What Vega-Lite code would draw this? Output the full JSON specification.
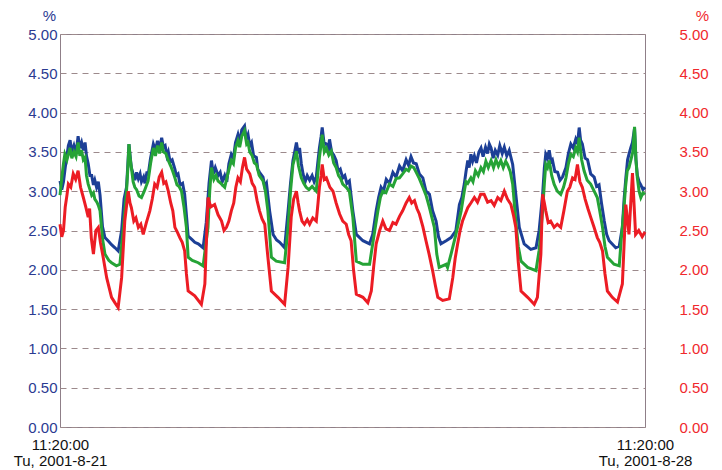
{
  "$schema": "https://vega.github.io/schema/vega-lite/v6.json",
  "width": 585,
  "height": 393,
  "autosize": "none",
  "padding": {"left": 60, "top": 34, "right": 77, "bottom": 43},
  "background": "white",
  "config": {
    "view": {"stroke": "#8f7f88", "strokeWidth": 1},
    "font": "Liberation Sans"
  },
  "datasets": {
    "L1": [
      {"h":0,"v":3.13},{"h":0.5,"v":3.02},{"h":1.0,"v":3.12},{"h":1.5,"v":3.3},{"h":2.0,"v":3.45},{"h":2.4,"v":3.58},{"h":2.9,"v":3.65},{"h":3.4,"v":3.5},{"h":4.0,"v":3.58},{"h":4.6,"v":3.48},{"h":5.2,"v":3.7},{"h":5.7,"v":3.55},{"h":6.2,"v":3.62},{"h":6.7,"v":3.52},{"h":7.2,"v":3.62},{"h":7.6,"v":3.45},{"h":8.1,"v":3.35},{"h":8.6,"v":3.2},{"h":9.1,"v":3.2},{"h":9.6,"v":3.08},{"h":10.0,"v":3.14},{"h":10.5,"v":3.05},{"h":11.0,"v":3.12},{"h":11.5,"v":2.95},{"h":12.2,"v":2.55},{"h":12.9,"v":2.41},{"h":14.0,"v":2.36},{"h":14.8,"v":2.32},{"h":15.8,"v":2.28},{"h":16.7,"v":2.24},{"h":17.7,"v":2.5},{"h":18.4,"v":2.9},{"h":19.1,"v":3.05},{"h":19.5,"v":3.35},{"h":19.8,"v":3.6},{"h":20.2,"v":3.42},{"h":20.5,"v":3.3},{"h":21.0,"v":3.22},{"h":21.5,"v":3.14},{"h":22.0,"v":3.24},{"h":22.5,"v":3.16},{"h":23.0,"v":3.22},{"h":23.4,"v":3.12},{"h":24.0,"v":3.18},{"h":24.4,"v":3.1},{"h":25.0,"v":3.25},{"h":25.3,"v":3.2},{"h":26.0,"v":3.42},{"h":26.8,"v":3.6},{"h":27.4,"v":3.52},{"h":28.0,"v":3.64},{"h":28.6,"v":3.55},{"h":29.2,"v":3.68},{"h":29.7,"v":3.56},{"h":30.2,"v":3.58},{"h":30.7,"v":3.45},{"h":31.1,"v":3.5},{"h":31.6,"v":3.38},{"h":32.2,"v":3.4},{"h":33.0,"v":3.28},{"h":33.4,"v":3.2},{"h":33.9,"v":3.22},{"h":34.5,"v":3.08},{"h":35.2,"v":3.1},{"h":35.8,"v":2.96},{"h":36.3,"v":2.7},{"h":36.8,"v":2.43},{"h":38.0,"v":2.38},{"h":38.7,"v":2.35},{"h":39.7,"v":2.33},{"h":41.1,"v":2.28},{"h":42.0,"v":2.6},{"h":42.8,"v":3.1},{"h":43.5,"v":3.39},{"h":44.0,"v":3.22},{"h":44.6,"v":3.3},{"h":45.4,"v":3.2},{"h":46.0,"v":3.24},{"h":46.6,"v":3.12},{"h":47.3,"v":3.2},{"h":47.9,"v":3.12},{"h":48.5,"v":3.35},{"h":49.2,"v":3.47},{"h":49.8,"v":3.42},{"h":50.4,"v":3.62},{"h":51.1,"v":3.72},{"h":51.6,"v":3.62},{"h":52.2,"v":3.78},{"h":53.0,"v":3.83},{"h":53.5,"v":3.66},{"h":54.0,"v":3.72},{"h":54.5,"v":3.58},{"h":55.0,"v":3.62},{"h":55.6,"v":3.45},{"h":56.4,"v":3.43},{"h":56.8,"v":3.28},{"h":57.3,"v":3.24},{"h":58.3,"v":3.18},{"h":58.8,"v":3.06},{"h":59.3,"v":3.1},{"h":60.2,"v":2.75},{"h":61.2,"v":2.45},{"h":62.2,"v":2.38},{"h":63.1,"v":2.35},{"h":64.5,"v":2.28},{"h":65.5,"v":2.75},{"h":66.2,"v":3.1},{"h":66.9,"v":3.39},{"h":67.4,"v":3.5},{"h":67.9,"v":3.62},{"h":68.4,"v":3.48},{"h":68.8,"v":3.55},{"h":69.3,"v":3.35},{"h":69.8,"v":3.22},{"h":70.4,"v":3.12},{"h":71.0,"v":3.2},{"h":71.7,"v":3.14},{"h":72.4,"v":3.2},{"h":73.0,"v":3.12},{"h":73.6,"v":3.18},{"h":74.0,"v":3.35},{"h":74.5,"v":3.55},{"h":75.0,"v":3.7},{"h":75.3,"v":3.81},{"h":75.8,"v":3.62},{"h":76.5,"v":3.6},{"h":77.0,"v":3.5},{"h":77.4,"v":3.66},{"h":78.0,"v":3.5},{"h":78.6,"v":3.46},{"h":79.3,"v":3.39},{"h":79.9,"v":3.25},{"h":80.5,"v":3.28},{"h":81.2,"v":3.17},{"h":81.8,"v":3.2},{"h":82.4,"v":3.1},{"h":83.1,"v":3.13},{"h":84.1,"v":2.75},{"h":85.1,"v":2.45},{"h":87.0,"v":2.37},{"h":88.9,"v":2.33},{"h":89.8,"v":2.45},{"h":90.8,"v":2.75},{"h":91.5,"v":2.92},{"h":92.2,"v":3.05},{"h":92.9,"v":3.0},{"h":93.7,"v":3.15},{"h":94.6,"v":3.1},{"h":95.6,"v":3.24},{"h":96.5,"v":3.18},{"h":97.5,"v":3.32},{"h":98.4,"v":3.26},{"h":99.4,"v":3.4},{"h":100.1,"v":3.33},{"h":100.8,"v":3.44},{"h":101.5,"v":3.36},{"h":102.3,"v":3.35},{"h":103.2,"v":3.22},{"h":104.2,"v":3.17},{"h":105.1,"v":3.0},{"h":106.1,"v":2.96},{"h":107.0,"v":2.75},{"h":108.0,"v":2.62},{"h":108.7,"v":2.42},{"h":109.4,"v":2.33},{"h":110.9,"v":2.37},{"h":112.3,"v":2.41},{"h":113.7,"v":2.5},{"h":114.7,"v":2.83},{"h":115.4,"v":2.92},{"h":116.1,"v":3.09},{"h":116.6,"v":3.25},{"h":117.1,"v":3.39},{"h":117.5,"v":3.3},{"h":118.0,"v":3.47},{"h":118.5,"v":3.38},{"h":119.0,"v":3.45},{"h":119.6,"v":3.36},{"h":120.3,"v":3.5},{"h":120.9,"v":3.55},{"h":121.5,"v":3.44},{"h":122.2,"v":3.56},{"h":122.8,"v":3.48},{"h":123.3,"v":3.6},{"h":123.8,"v":3.55},{"h":124.4,"v":3.42},{"h":125.0,"v":3.52},{"h":125.7,"v":3.46},{"h":126.3,"v":3.58},{"h":127.0,"v":3.48},{"h":127.6,"v":3.56},{"h":128.3,"v":3.45},{"h":129.0,"v":3.52},{"h":130.0,"v":3.34},{"h":130.9,"v":2.96},{"h":131.9,"v":2.54},{"h":133.3,"v":2.33},{"h":135.2,"v":2.26},{"h":136.7,"v":2.28},{"h":137.6,"v":2.5},{"h":138.6,"v":2.96},{"h":139.1,"v":3.3},{"h":139.5,"v":3.47},{"h":140.0,"v":3.42},{"h":140.5,"v":3.52},{"h":141.0,"v":3.38},{"h":141.4,"v":3.4},{"h":142.1,"v":3.25},{"h":142.9,"v":3.24},{"h":143.6,"v":3.14},{"h":144.3,"v":3.18},{"h":145.3,"v":3.3},{"h":146.0,"v":3.48},{"h":146.7,"v":3.6},{"h":147.4,"v":3.55},{"h":148.1,"v":3.66},{"h":148.6,"v":3.6},{"h":149.1,"v":3.81},{"h":149.5,"v":3.65},{"h":150.0,"v":3.6},{"h":150.8,"v":3.42},{"h":151.5,"v":3.4},{"h":152.4,"v":3.22},{"h":153.4,"v":3.18},{"h":154.1,"v":3.06},{"h":154.8,"v":3.08},{"h":155.5,"v":2.85},{"h":156.3,"v":2.62},{"h":157.0,"v":2.45},{"h":157.7,"v":2.37},{"h":159.6,"v":2.28},{"h":160.6,"v":2.3},{"h":161.5,"v":2.54},{"h":162.0,"v":2.9},{"h":162.5,"v":3.17},{"h":163.0,"v":3.4},{"h":163.4,"v":3.47},{"h":163.9,"v":3.55},{"h":164.4,"v":3.62},{"h":165.0,"v":3.8},{"h":165.4,"v":3.4},{"h":165.8,"v":3.2},{"h":166.3,"v":3.12},{"h":166.8,"v":3.08},{"h":167.4,"v":3.02},{"h":168,"v":3.05}
    ],
    "L2": [
      {"h":0,"v":2.95},{"h":0.6,"v":3.2},{"h":1.0,"v":3.35},{"h":1.4,"v":3.47},{"h":2.0,"v":3.4},{"h":2.9,"v":3.55},{"h":3.4,"v":3.42},{"h":4.0,"v":3.5},{"h":4.6,"v":3.44},{"h":5.2,"v":3.62},{"h":5.7,"v":3.45},{"h":6.2,"v":3.52},{"h":6.7,"v":3.4},{"h":7.2,"v":3.43},{"h":7.6,"v":3.2},{"h":8.1,"v":3.09},{"h":8.6,"v":3.02},{"h":9.1,"v":2.95},{"h":9.6,"v":2.98},{"h":10.0,"v":2.9},{"h":10.6,"v":2.86},{"h":11.0,"v":2.82},{"h":11.5,"v":2.75},{"h":12.2,"v":2.4},{"h":12.9,"v":2.2},{"h":14.0,"v":2.12},{"h":14.8,"v":2.09},{"h":16.2,"v":2.05},{"h":17.2,"v":2.07},{"h":18.2,"v":2.54},{"h":19.1,"v":3.0},{"h":19.5,"v":3.3},{"h":19.8,"v":3.6},{"h":20.2,"v":3.4},{"h":20.5,"v":3.3},{"h":21.0,"v":3.12},{"h":21.5,"v":3.05},{"h":22.0,"v":3.02},{"h":22.7,"v":2.94},{"h":23.4,"v":2.92},{"h":24.2,"v":3.0},{"h":25.3,"v":3.13},{"h":26.0,"v":3.35},{"h":26.8,"v":3.55},{"h":27.4,"v":3.45},{"h":28.0,"v":3.58},{"h":28.6,"v":3.48},{"h":29.2,"v":3.62},{"h":29.7,"v":3.5},{"h":30.4,"v":3.48},{"h":31.1,"v":3.39},{"h":31.8,"v":3.32},{"h":32.4,"v":3.25},{"h":33.0,"v":3.17},{"h":33.6,"v":3.08},{"h":34.2,"v":3.06},{"h":34.9,"v":3.0},{"h":35.6,"v":2.8},{"h":36.3,"v":2.54},{"h":36.8,"v":2.16},{"h":38.0,"v":2.12},{"h":39.7,"v":2.09},{"h":41.1,"v":2.05},{"h":42.5,"v":2.54},{"h":43.0,"v":3.0},{"h":43.5,"v":3.3},{"h":44.2,"v":3.15},{"h":44.8,"v":3.2},{"h":45.4,"v":3.13},{"h":46.2,"v":3.1},{"h":47.3,"v":3.05},{"h":48.2,"v":3.22},{"h":49.2,"v":3.39},{"h":49.8,"v":3.35},{"h":50.4,"v":3.55},{"h":51.1,"v":3.64},{"h":51.6,"v":3.56},{"h":52.2,"v":3.7},{"h":53.0,"v":3.77},{"h":53.6,"v":3.6},{"h":54.0,"v":3.62},{"h":54.5,"v":3.5},{"h":55.2,"v":3.45},{"h":55.8,"v":3.36},{"h":56.4,"v":3.34},{"h":57.2,"v":3.2},{"h":58.3,"v":3.13},{"h":59.0,"v":3.0},{"h":59.7,"v":2.75},{"h":60.7,"v":2.16},{"h":62.1,"v":2.11},{"h":64.5,"v":2.09},{"h":65.5,"v":2.54},{"h":66.2,"v":3.0},{"h":66.9,"v":3.34},{"h":67.4,"v":3.42},{"h":67.9,"v":3.51},{"h":68.5,"v":3.32},{"h":69.3,"v":3.17},{"h":70.0,"v":3.1},{"h":70.7,"v":3.05},{"h":71.5,"v":3.02},{"h":72.4,"v":3.06},{"h":73.6,"v":3.0},{"h":74.0,"v":3.2},{"h":74.5,"v":3.43},{"h":75.0,"v":3.6},{"h":75.3,"v":3.72},{"h":75.9,"v":3.5},{"h":76.5,"v":3.55},{"h":77.2,"v":3.46},{"h":77.9,"v":3.51},{"h":78.6,"v":3.36},{"h":79.3,"v":3.3},{"h":80.0,"v":3.2},{"h":80.6,"v":3.16},{"h":81.2,"v":3.09},{"h":82.2,"v":3.05},{"h":83.1,"v":3.0},{"h":84.1,"v":2.67},{"h":85.1,"v":2.11},{"h":87.0,"v":2.07},{"h":88.9,"v":2.07},{"h":89.8,"v":2.33},{"h":91.3,"v":2.75},{"h":92.0,"v":2.92},{"h":92.7,"v":3.0},{"h":93.6,"v":2.98},{"h":94.6,"v":3.09},{"h":95.6,"v":3.06},{"h":96.5,"v":3.16},{"h":97.5,"v":3.17},{"h":98.4,"v":3.22},{"h":99.4,"v":3.28},{"h":100.1,"v":3.26},{"h":100.8,"v":3.32},{"h":101.6,"v":3.3},{"h":102.3,"v":3.24},{"h":103.2,"v":3.16},{"h":104.2,"v":3.05},{"h":105.1,"v":2.95},{"h":106.1,"v":2.79},{"h":107.5,"v":2.54},{"h":108.2,"v":2.2},{"h":108.9,"v":2.03},{"h":110.9,"v":2.07},{"h":111.3,"v":2.03},{"h":112.3,"v":2.2},{"h":113.7,"v":2.45},{"h":115.2,"v":2.75},{"h":116.1,"v":3.0},{"h":116.6,"v":3.12},{"h":117.1,"v":3.1},{"h":118.0,"v":3.17},{"h":118.6,"v":3.12},{"h":119.3,"v":3.26},{"h":120.1,"v":3.2},{"h":120.9,"v":3.3},{"h":121.6,"v":3.25},{"h":122.3,"v":3.38},{"h":123.0,"v":3.3},{"h":123.8,"v":3.39},{"h":124.5,"v":3.3},{"h":125.2,"v":3.4},{"h":125.9,"v":3.32},{"h":126.6,"v":3.39},{"h":127.3,"v":3.3},{"h":128.0,"v":3.38},{"h":128.5,"v":3.34},{"h":129.3,"v":3.25},{"h":130.0,"v":3.09},{"h":130.9,"v":2.62},{"h":131.6,"v":2.3},{"h":132.4,"v":2.11},{"h":134.3,"v":2.03},{"h":136.7,"v":1.99},{"h":137.6,"v":2.25},{"h":138.6,"v":2.75},{"h":139.1,"v":3.1},{"h":139.5,"v":3.34},{"h":140.0,"v":3.3},{"h":140.5,"v":3.39},{"h":141.2,"v":3.2},{"h":141.9,"v":3.09},{"h":142.8,"v":3.0},{"h":143.8,"v":2.96},{"h":144.6,"v":3.05},{"h":145.3,"v":3.17},{"h":146.0,"v":3.35},{"h":146.7,"v":3.47},{"h":147.4,"v":3.44},{"h":148.1,"v":3.55},{"h":148.6,"v":3.5},{"h":149.1,"v":3.68},{"h":149.8,"v":3.4},{"h":150.5,"v":3.26},{"h":151.4,"v":3.14},{"h":152.4,"v":3.09},{"h":153.4,"v":3.0},{"h":154.3,"v":2.92},{"h":155.0,"v":2.75},{"h":155.8,"v":2.54},{"h":156.5,"v":2.3},{"h":157.2,"v":2.16},{"h":159.1,"v":2.07},{"h":160.6,"v":2.05},{"h":161.2,"v":2.4},{"h":161.9,"v":2.75},{"h":162.4,"v":3.05},{"h":162.9,"v":3.26},{"h":163.4,"v":3.3},{"h":163.9,"v":3.39},{"h":164.5,"v":3.5},{"h":165.0,"v":3.82},{"h":165.4,"v":3.4},{"h":165.8,"v":3.17},{"h":166.3,"v":3.0},{"h":166.8,"v":2.92},{"h":167.4,"v":2.98},{"h":168,"v":2.96}
    ],
    "L3": [
      {"h":0,"v":2.58},{"h":0.5,"v":2.42},{"h":1.0,"v":2.5},{"h":1.5,"v":2.8},{"h":2.0,"v":2.95},{"h":2.4,"v":3.09},{"h":3.1,"v":3.05},{"h":3.8,"v":3.22},{"h":4.5,"v":3.15},{"h":5.2,"v":3.26},{"h":5.9,"v":3.05},{"h":6.7,"v":2.92},{"h":7.4,"v":2.8},{"h":8.1,"v":2.67},{"h":8.5,"v":2.78},{"h":9.0,"v":2.4},{"h":9.6,"v":2.2},{"h":10.3,"v":2.5},{"h":11.0,"v":2.54},{"h":11.6,"v":2.35},{"h":12.4,"v":2.16},{"h":13.4,"v":1.9},{"h":14.8,"v":1.65},{"h":15.8,"v":1.58},{"h":16.7,"v":1.52},{"h":17.7,"v":1.9},{"h":18.6,"v":2.62},{"h":19.6,"v":3.0},{"h":20.1,"v":2.85},{"h":20.5,"v":2.79},{"h":21.2,"v":2.62},{"h":21.8,"v":2.66},{"h":22.5,"v":2.54},{"h":23.2,"v":2.58},{"h":23.9,"v":2.45},{"h":24.8,"v":2.6},{"h":25.8,"v":2.75},{"h":26.5,"v":2.9},{"h":27.2,"v":3.09},{"h":27.9,"v":3.05},{"h":28.5,"v":3.18},{"h":29.2,"v":3.24},{"h":29.8,"v":3.1},{"h":30.4,"v":3.12},{"h":31.1,"v":3.0},{"h":31.8,"v":2.85},{"h":32.4,"v":2.75},{"h":33.0,"v":2.54},{"h":33.7,"v":2.48},{"h":34.4,"v":2.41},{"h":35.1,"v":2.35},{"h":35.8,"v":2.24},{"h":36.3,"v":1.95},{"h":36.8,"v":1.73},{"h":38.7,"v":1.67},{"h":40.6,"v":1.56},{"h":41.6,"v":1.82},{"h":42.5,"v":2.92},{"h":43.3,"v":2.8},{"h":44.4,"v":2.83},{"h":45.4,"v":2.7},{"h":46.4,"v":2.62},{"h":47.1,"v":2.5},{"h":47.8,"v":2.54},{"h":48.5,"v":2.62},{"h":49.2,"v":2.75},{"h":49.9,"v":2.85},{"h":50.5,"v":3.05},{"h":51.1,"v":3.17},{"h":51.8,"v":3.12},{"h":52.4,"v":3.3},{"h":53.0,"v":3.43},{"h":53.6,"v":3.28},{"h":54.5,"v":3.22},{"h":55.2,"v":3.1},{"h":55.9,"v":3.05},{"h":56.6,"v":2.88},{"h":57.3,"v":2.75},{"h":58.0,"v":2.65},{"h":58.8,"v":2.58},{"h":59.7,"v":2.16},{"h":60.7,"v":1.73},{"h":62.6,"v":1.65},{"h":64.5,"v":1.56},{"h":65.5,"v":2.03},{"h":66.4,"v":2.67},{"h":67.1,"v":2.9},{"h":67.9,"v":3.0},{"h":68.4,"v":2.85},{"h":68.8,"v":2.75},{"h":69.5,"v":2.62},{"h":70.2,"v":2.58},{"h":71.0,"v":2.64},{"h":71.7,"v":2.58},{"h":72.6,"v":2.66},{"h":73.6,"v":2.62},{"h":74.1,"v":2.85},{"h":74.5,"v":3.05},{"h":75.0,"v":3.2},{"h":75.3,"v":3.34},{"h":75.9,"v":3.15},{"h":76.5,"v":3.17},{"h":77.5,"v":3.05},{"h":78.4,"v":3.0},{"h":79.3,"v":2.85},{"h":80.3,"v":2.71},{"h":81.2,"v":2.62},{"h":82.2,"v":2.58},{"h":82.9,"v":2.45},{"h":83.6,"v":2.37},{"h":84.3,"v":2.0},{"h":85.1,"v":1.69},{"h":87.0,"v":1.65},{"h":88.4,"v":1.58},{"h":89.4,"v":1.73},{"h":90.1,"v":2.05},{"h":90.8,"v":2.33},{"h":91.8,"v":2.5},{"h":92.7,"v":2.62},{"h":93.6,"v":2.52},{"h":94.6,"v":2.5},{"h":95.6,"v":2.6},{"h":96.5,"v":2.58},{"h":97.5,"v":2.68},{"h":98.4,"v":2.75},{"h":99.4,"v":2.85},{"h":100.3,"v":2.92},{"h":101.0,"v":2.85},{"h":101.8,"v":2.88},{"h":102.5,"v":2.78},{"h":103.2,"v":2.71},{"h":104.2,"v":2.55},{"h":105.1,"v":2.37},{"h":106.0,"v":2.2},{"h":107.0,"v":1.99},{"h":107.8,"v":1.8},{"h":108.5,"v":1.65},{"h":109.9,"v":1.61},{"h":111.8,"v":1.63},{"h":112.8,"v":1.9},{"h":113.5,"v":2.15},{"h":114.2,"v":2.33},{"h":114.9,"v":2.5},{"h":115.6,"v":2.62},{"h":116.3,"v":2.7},{"h":117.1,"v":2.79},{"h":118.0,"v":2.85},{"h":119.0,"v":2.92},{"h":119.9,"v":2.86},{"h":120.8,"v":2.96},{"h":121.8,"v":2.96},{"h":122.8,"v":2.86},{"h":123.8,"v":2.88},{"h":124.7,"v":2.82},{"h":125.7,"v":2.92},{"h":126.6,"v":2.88},{"h":127.6,"v":3.0},{"h":128.5,"v":2.9},{"h":129.5,"v":2.83},{"h":130.2,"v":2.7},{"h":130.9,"v":2.54},{"h":131.6,"v":2.1},{"h":132.4,"v":1.73},{"h":134.3,"v":1.65},{"h":136.2,"v":1.56},{"h":137.1,"v":1.65},{"h":138.1,"v":2.2},{"h":138.6,"v":2.96},{"h":139.1,"v":2.85},{"h":139.5,"v":2.75},{"h":140.2,"v":2.6},{"h":140.9,"v":2.62},{"h":141.9,"v":2.54},{"h":142.8,"v":2.58},{"h":143.8,"v":2.54},{"h":144.7,"v":2.75},{"h":145.7,"v":3.0},{"h":146.4,"v":3.05},{"h":147.2,"v":3.17},{"h":147.9,"v":3.15},{"h":148.6,"v":3.34},{"h":149.3,"v":3.12},{"h":150.0,"v":3.05},{"h":150.8,"v":2.9},{"h":151.6,"v":2.78},{"h":152.4,"v":2.67},{"h":153.3,"v":2.55},{"h":154.3,"v":2.41},{"h":155.0,"v":2.35},{"h":155.8,"v":2.24},{"h":156.5,"v":1.95},{"h":157.2,"v":1.73},{"h":158.6,"v":1.65},{"h":160.1,"v":1.59},{"h":161.5,"v":1.82},{"h":162.5,"v":2.83},{"h":163.4,"v":2.45},{"h":164.4,"v":3.23},{"h":165.3,"v":2.45},{"h":166.2,"v":2.5},{"h":167.2,"v":2.42},{"h":168,"v":2.48}
    ]
  },
  "encoding": {
    "x": {
      "field": "h", "type": "quantitative",
      "scale": {"domain": [0, 168], "nice": false, "zero": false},
      "axis": {
        "values": [0, 168],
        "labelExpr": "datum.value < 84 ? ['11:20:00', 'Tu, 2001-8-21'] : ['11:20:00', 'Tu, 2001-8-28']",
        "labelFlush": false, "labelOverlap": false, "labelBound": false,
        "labelFont": "Liberation Sans", "labelFontSize": 15, "labelColor": "#111111",
        "labelLineHeight": 16, "labelPadding": 10,
        "ticks": false, "domain": false, "grid": false, "title": null
      }
    }
  },
  "layer": [
    {
      "encoding": {
        "y": {
          "field": "v", "type": "quantitative",
          "scale": {"domain": [0, 5], "nice": false, "zero": true},
          "axis": {
            "orient": "left",
            "values": [0, 0.5, 1, 1.5, 2, 2.5, 3, 3.5, 4, 4.5, 5],
            "format": ".2f", "labelOverlap": false,
            "labelFont": "Liberation Sans", "labelFontSize": 15, "labelColor": "#2b3a91",
            "labelPadding": 3, "ticks": false, "domain": false,
            "grid": true, "gridColor": "#9c8a8c", "gridDash": [6, 5], "gridWidth": 1,
            "title": "%", "titleAngle": 0, "titleColor": "#2b3a91", "titleFont": "Liberation Sans",
            "titleFontSize": 15, "titleFontWeight": "normal", "titleX": -11, "titleY": -14,
            "titleAlign": "center", "titleBaseline": "alphabetic"
          }
        }
      },
      "layer": [
        {
          "data": {"name": "L1"},
          "mark": {"type": "line", "color": "#1c3f96", "strokeWidth": 3}
        },
        {
          "data": {"name": "L2"},
          "mark": {"type": "line", "color": "#25a336", "strokeWidth": 3}
        }
      ]
    },
    {
      "data": {"name": "L3"},
      "mark": {"type": "line", "color": "#ec1c24", "strokeWidth": 3},
      "encoding": {
        "y": {
          "field": "v", "type": "quantitative",
          "scale": {"domain": [0, 5], "nice": false, "zero": true},
          "axis": {
            "orient": "right",
            "values": [0, 0.5, 1, 1.5, 2, 2.5, 3, 3.5, 4, 4.5, 5],
            "format": ".2f", "labelOverlap": false,
            "labelFont": "Liberation Sans", "labelFontSize": 15, "labelColor": "#f0282d",
            "labelPadding": 34, "ticks": false, "domain": false, "grid": false,
            "title": "%", "titleAngle": 0, "titleColor": "#f0282d", "titleFont": "Liberation Sans",
            "titleFontSize": 15, "titleFontWeight": "normal", "titleX": 57, "titleY": -14,
            "titleAlign": "center", "titleBaseline": "alphabetic"
          }
        }
      }
    }
  ],
  "resolve": {"scale": {"y": "independent"}}
}
